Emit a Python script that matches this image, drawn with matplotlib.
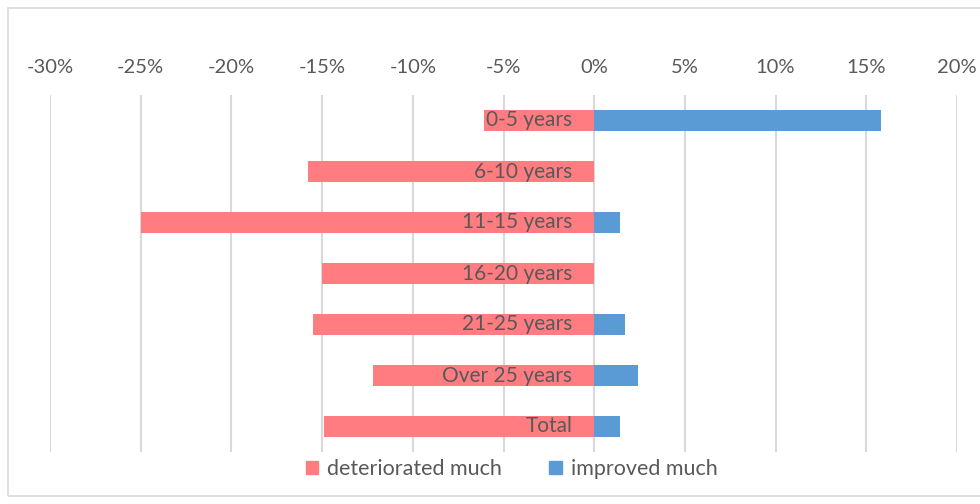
import matplotlib.pyplot as plt
from matplotlib.patches import Rectangle, Patch

plt.rcParams['font.family'] = ['Lato', 'DejaVu Sans']

categories = ['0-5 years', '6-10 years', '11-15 years', '16-20 years',
              '21-25 years', 'Over 25 years', 'Total']
deteriorated = [-6.1, -15.8, -25.0, -15.0, -15.5, -12.2, -14.9]
improved = [15.8, 0.0, 1.4, 0.0, 1.7, 2.4, 1.4]
ticks = [-30, -25, -20, -15, -10, -5, 0, 5, 10, 15, 20]

red = '#FF7C80'
blue = '#5B9BD5'
gray_text = '#595959'

fig = plt.figure(figsize=(9.8, 5.04), dpi=100)
ax = fig.add_axes([50 / 980, 52 / 504, 907 / 980, 357 / 504])

y = list(range(len(categories)))
ax.barh(y, deteriorated, height=0.4, color=red, label='deteriorated much', zorder=2)
ax.barh(y, improved, height=0.4, color=blue, label='improved much', zorder=2)

for yi, name in zip(y, categories):
    ax.text(-1.2, yi, name, ha='right', va='center', fontsize=15,
            color=gray_text, zorder=3)

ax.set_xlim(-30, 20)
ax.set_ylim(len(categories) - 0.5, -0.5)
ax.set_xticks(ticks)
ax.set_xticklabels([f'{t}%' for t in ticks], fontsize=14.5, color=gray_text)
ax.xaxis.tick_top()
ax.tick_params(axis='x', length=0, pad=14)
ax.set_yticks([])
ax.grid(axis='x', color='#D9D9D9', linewidth=1.5, zorder=0)
for s in ax.spines.values():
    s.set_visible(False)

handles = [Patch(color=red, label='deteriorated much'),
           Patch(color=blue, label='improved much')]
fig.legend(handles=handles, loc='center', bbox_to_anchor=(0.522, 35 / 504), ncol=2,
           frameon=False, fontsize=15.5, handlelength=0.6, handleheight=0.6,
           columnspacing=2.2, handletextpad=0.4, labelcolor=gray_text)

fig.patches.append(Rectangle((8 / 980, 8 / 504), 1.2, 488 / 504, transform=fig.transFigure,
                             fill=False, edgecolor='#D9D9D9', linewidth=1.2))

fig.savefig('out.png', dpi=100)
